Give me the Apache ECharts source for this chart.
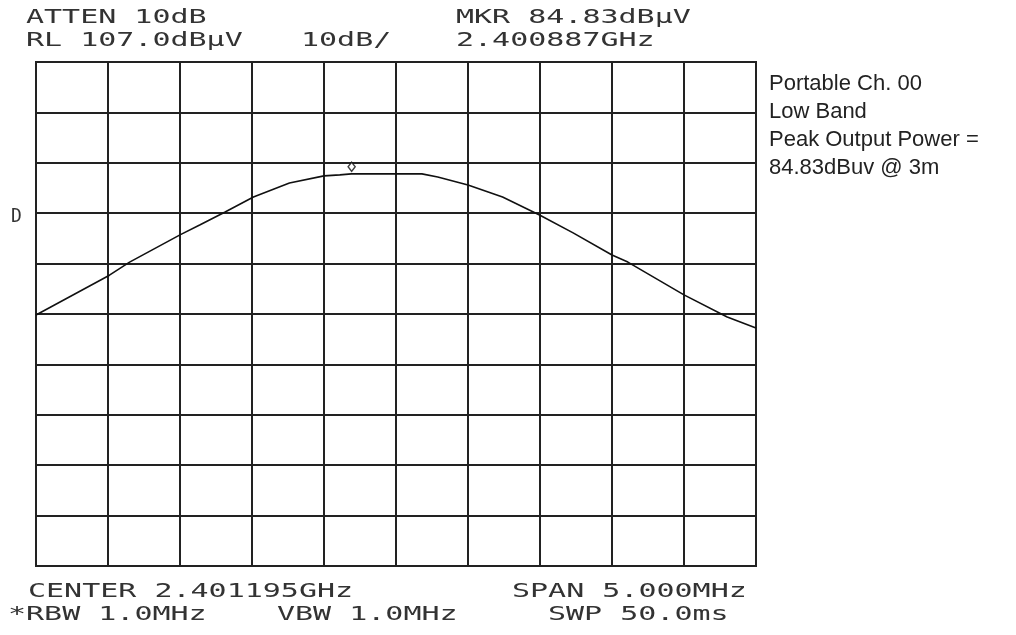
<!DOCTYPE html>
<html>
<head>
<meta charset="utf-8">
<title>Spectrum plot</title>
<script src="https://cdn.jsdelivr.net/npm/echarts@6/dist/echarts.min.js"></script>
<style>
  html, body { margin: 0; padding: 0; background: #fff; }
  #chart { width: 1016px; height: 635px; }
</style>
</head>
<body>
<div id="chart"></div>
<script>
// trace: offset from centre (MHz), level (dBuV)
const freqOffsetMHz = [-2.5, -1.99, -1.85, -1.5, -1.36, -1.19, -0.99, -0.74, -0.5, -0.39, -0.31, -0.11, 0.18, 0.29, 0.5, 0.74, 1.0, 1.23, 1.5, 1.61, 2.0, 2.3, 2.5];
const levelDbuv = [56.8, 64.7, 67.3, 72.7, 74.7, 77.2, 80.2, 83.0, 84.4, 84.6, 84.8, 84.8, 84.8, 84.2, 82.6, 80.2, 76.6, 73.1, 68.7, 67.3, 60.8, 56.4, 54.2];

const refLevel = 107;
const marker = [-0.308, 84.83];

const headerLeft = ["ATTEN 10dB", "RL 107.0dBµV"];
const headerMid = ["10dB/"];
const headerRight = ["MKR 84.83dBµV", "2.400887GHz"];
const footerLines = [
  ["CENTER 2.401195GHz", "SPAN 5.000MHz"],
  ["*RBW 1.0MHz", "VBW 1.0MHz", "SWP 50.0ms"],
];
const notes = ["Portable Ch. 00", "Low Band", "Peak Output Power =", "84.83dBuv @ 3m"];

const chart = echarts.init(document.getElementById("chart"));

const monoFont = '20px "DejaVu Sans Mono"';
const stretch = 1.5;

// analyzer screen text, widened to the plotter's character pitch
const scr = (txt, x, y, sx) => ({
  type: "text",
  x: x,
  y: y,
  scaleX: sx || stretch,
  silent: true,
  style: {
    text: txt,
    font: monoFont,
    fill: "#333",
    textAlign: "left",
    textVerticalAlign: "middle",
  },
});

const graphics = [
  scr(headerLeft[0], 26, 18),
  scr(headerLeft[1], 26, 41),
  scr(headerMid[0], 301, 41),
  scr(headerRight[0], 456, 18),
  scr(headerRight[1], 456, 41),
  scr(footerLines[0][0], 28, 592),
  scr(footerLines[0][1], 512, 592),
  scr(footerLines[1][0], 8, 615),
  scr(footerLines[1][1], 277, 615),
  scr(footerLines[1][2], 548, 615),
  scr("D", 11, 217, 0.9),
];

notes.forEach((t, i) => {
  graphics.push({
    type: "text",
    x: 769,
    y: 84 + i * 28,
    silent: true,
    style: {
      text: t,
      font: '22px "Liberation Sans"',
      fill: "#222",
      textAlign: "left",
      textVerticalAlign: "middle",
    },
  });
});

chart.setOption({
  animation: false,
  backgroundColor: "#fff",
  grid: {
    left: 36,
    right: 260,
    top: 62,
    bottom: 69,
    show: true,
    borderColor: "#222",
    borderWidth: 2,
  },
  xAxis: {
    type: "value",
    min: -2.5,
    max: 2.5,
    interval: 0.5,
    axisLine: { show: false },
    axisTick: { show: false },
    axisLabel: { show: false },
    splitLine: { show: true, lineStyle: { color: "#222", width: 2 } },
  },
  yAxis: {
    type: "value",
    min: -100,
    max: 0,
    interval: 10,
    axisLine: { show: false },
    axisTick: { show: false },
    axisLabel: { show: false },
    splitLine: { show: true, lineStyle: { color: "#222", width: 2 } },
  },
  graphic: graphics,
  series: [
    {
      type: "line",
      data: freqOffsetMHz.map((f, i) => [f, levelDbuv[i] - refLevel]),
      symbol: "none",
      lineStyle: { color: "#111", width: 1.6 },
      z: 3,
    },
    {
      type: "scatter",
      data: [[marker[0], marker[1] - refLevel]],
      symbol: "diamond",
      symbolSize: [7, 9],
      symbolOffset: [0, -7],
      itemStyle: { color: "#fff", borderColor: "#111", borderWidth: 1.5 },
      z: 4,
    },
  ],
});
</script>
</body>
</html>
